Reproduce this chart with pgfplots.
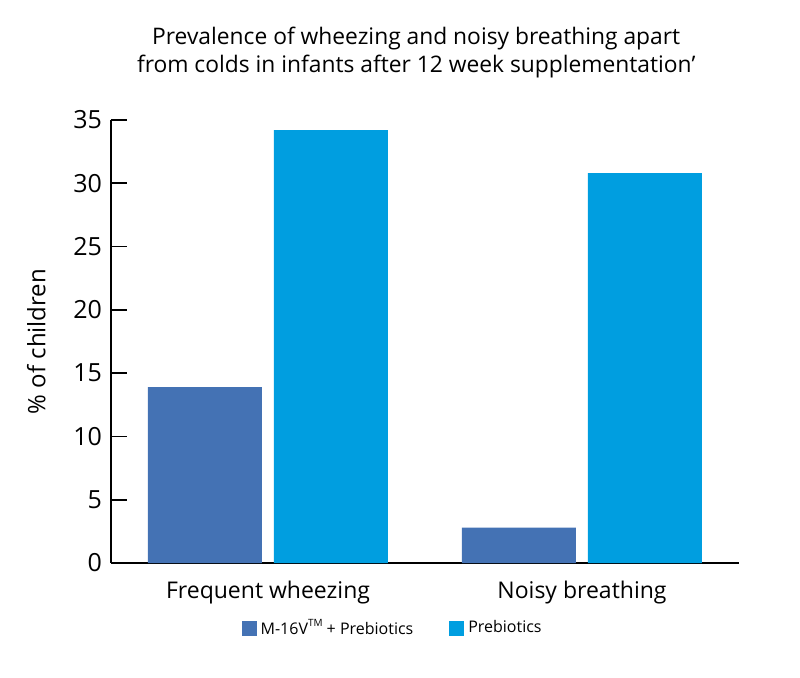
\documentclass[border=0pt]{standalone}
\usepackage{pgfplots}
\pgfplotsset{compat=1.18}
\usepackage{fontspec}
\setmainfont{Open Sans}

\definecolor{darkbar}{RGB}{68,114,180}
\definecolor{lightbar}{RGB}{0,158,224}

\begin{document}
\begin{tikzpicture}
  % frame: 1px of the 800x677 reference = 0.5pt, axis origin at px (111,563)
  \path[use as bounding box] (-55.5pt,-57pt) rectangle (344.5pt,281.5pt);
  \begin{axis}[
      at={(0,0)}, anchor=south west,
      scale only axis,
      width=314pt, height=221.5pt,
      ymin=0, ymax=35,
      xmin=-0.5, xmax=1.5,
      ytick={0,5,...,35},
      xtick={0,1},
      xticklabels={Frequent wheezing, Noisy breathing},
      axis lines=left,
      axis line style={-, line width=0.9pt},
      tick style={black, line width=0.9pt},
      major tick length=8pt,
      tick align=inside,
      major x tick style={draw=none},
      extra x ticks={0.5,1.5},
      extra x tick labels={},
      extra x tick style={major tick length=5pt, tick align=inside},
      /pgf/number format/assume math mode=true,
      yticklabel style={font=\fontsize{12.5}{14}\selectfont, xshift=-1pt},
      xticklabel style={font=\fontsize{11.5}{14}\selectfont, yshift=2.5pt},
      ylabel={\% of children},
      ylabel style={font=\fontsize{12}{14}\selectfont},
      ylabel shift=7pt,
      title={Prevalence of wheezing and noisy breathing apart\\from colds in infants after 12 week supplementation’},
      title style={font=\fontsize{11.4}{14}\selectfont, align=center,
        at={(rel axis cs:0.486,1)}, anchor=south, yshift=11.5pt},
      ybar=6pt,
      bar width=57pt,
      legend columns=2,
      legend style={draw=none, fill=none, font=\fontsize{8}{10}\selectfont,
        at={(rel axis cs:0.45,-0.147)}, anchor=center,
        /tikz/every even column/.append style={column sep=16pt}},
      legend image code/.code={\fill[#1] (0pt,-3.8pt) rectangle (7.5pt,3.7pt);},
    ]
    \addplot[fill=darkbar, draw=none] coordinates {(0,13.9) (1,2.8)};
    \addplot[fill=lightbar, draw=none] coordinates {(0,34.2) (1,30.8)};
    \legend{M-16V\raisebox{0.9ex}{\fontsize{5}{6}\selectfont TM} + Prebiotics, Prebiotics}
  \end{axis}
\end{tikzpicture}
\end{document}
